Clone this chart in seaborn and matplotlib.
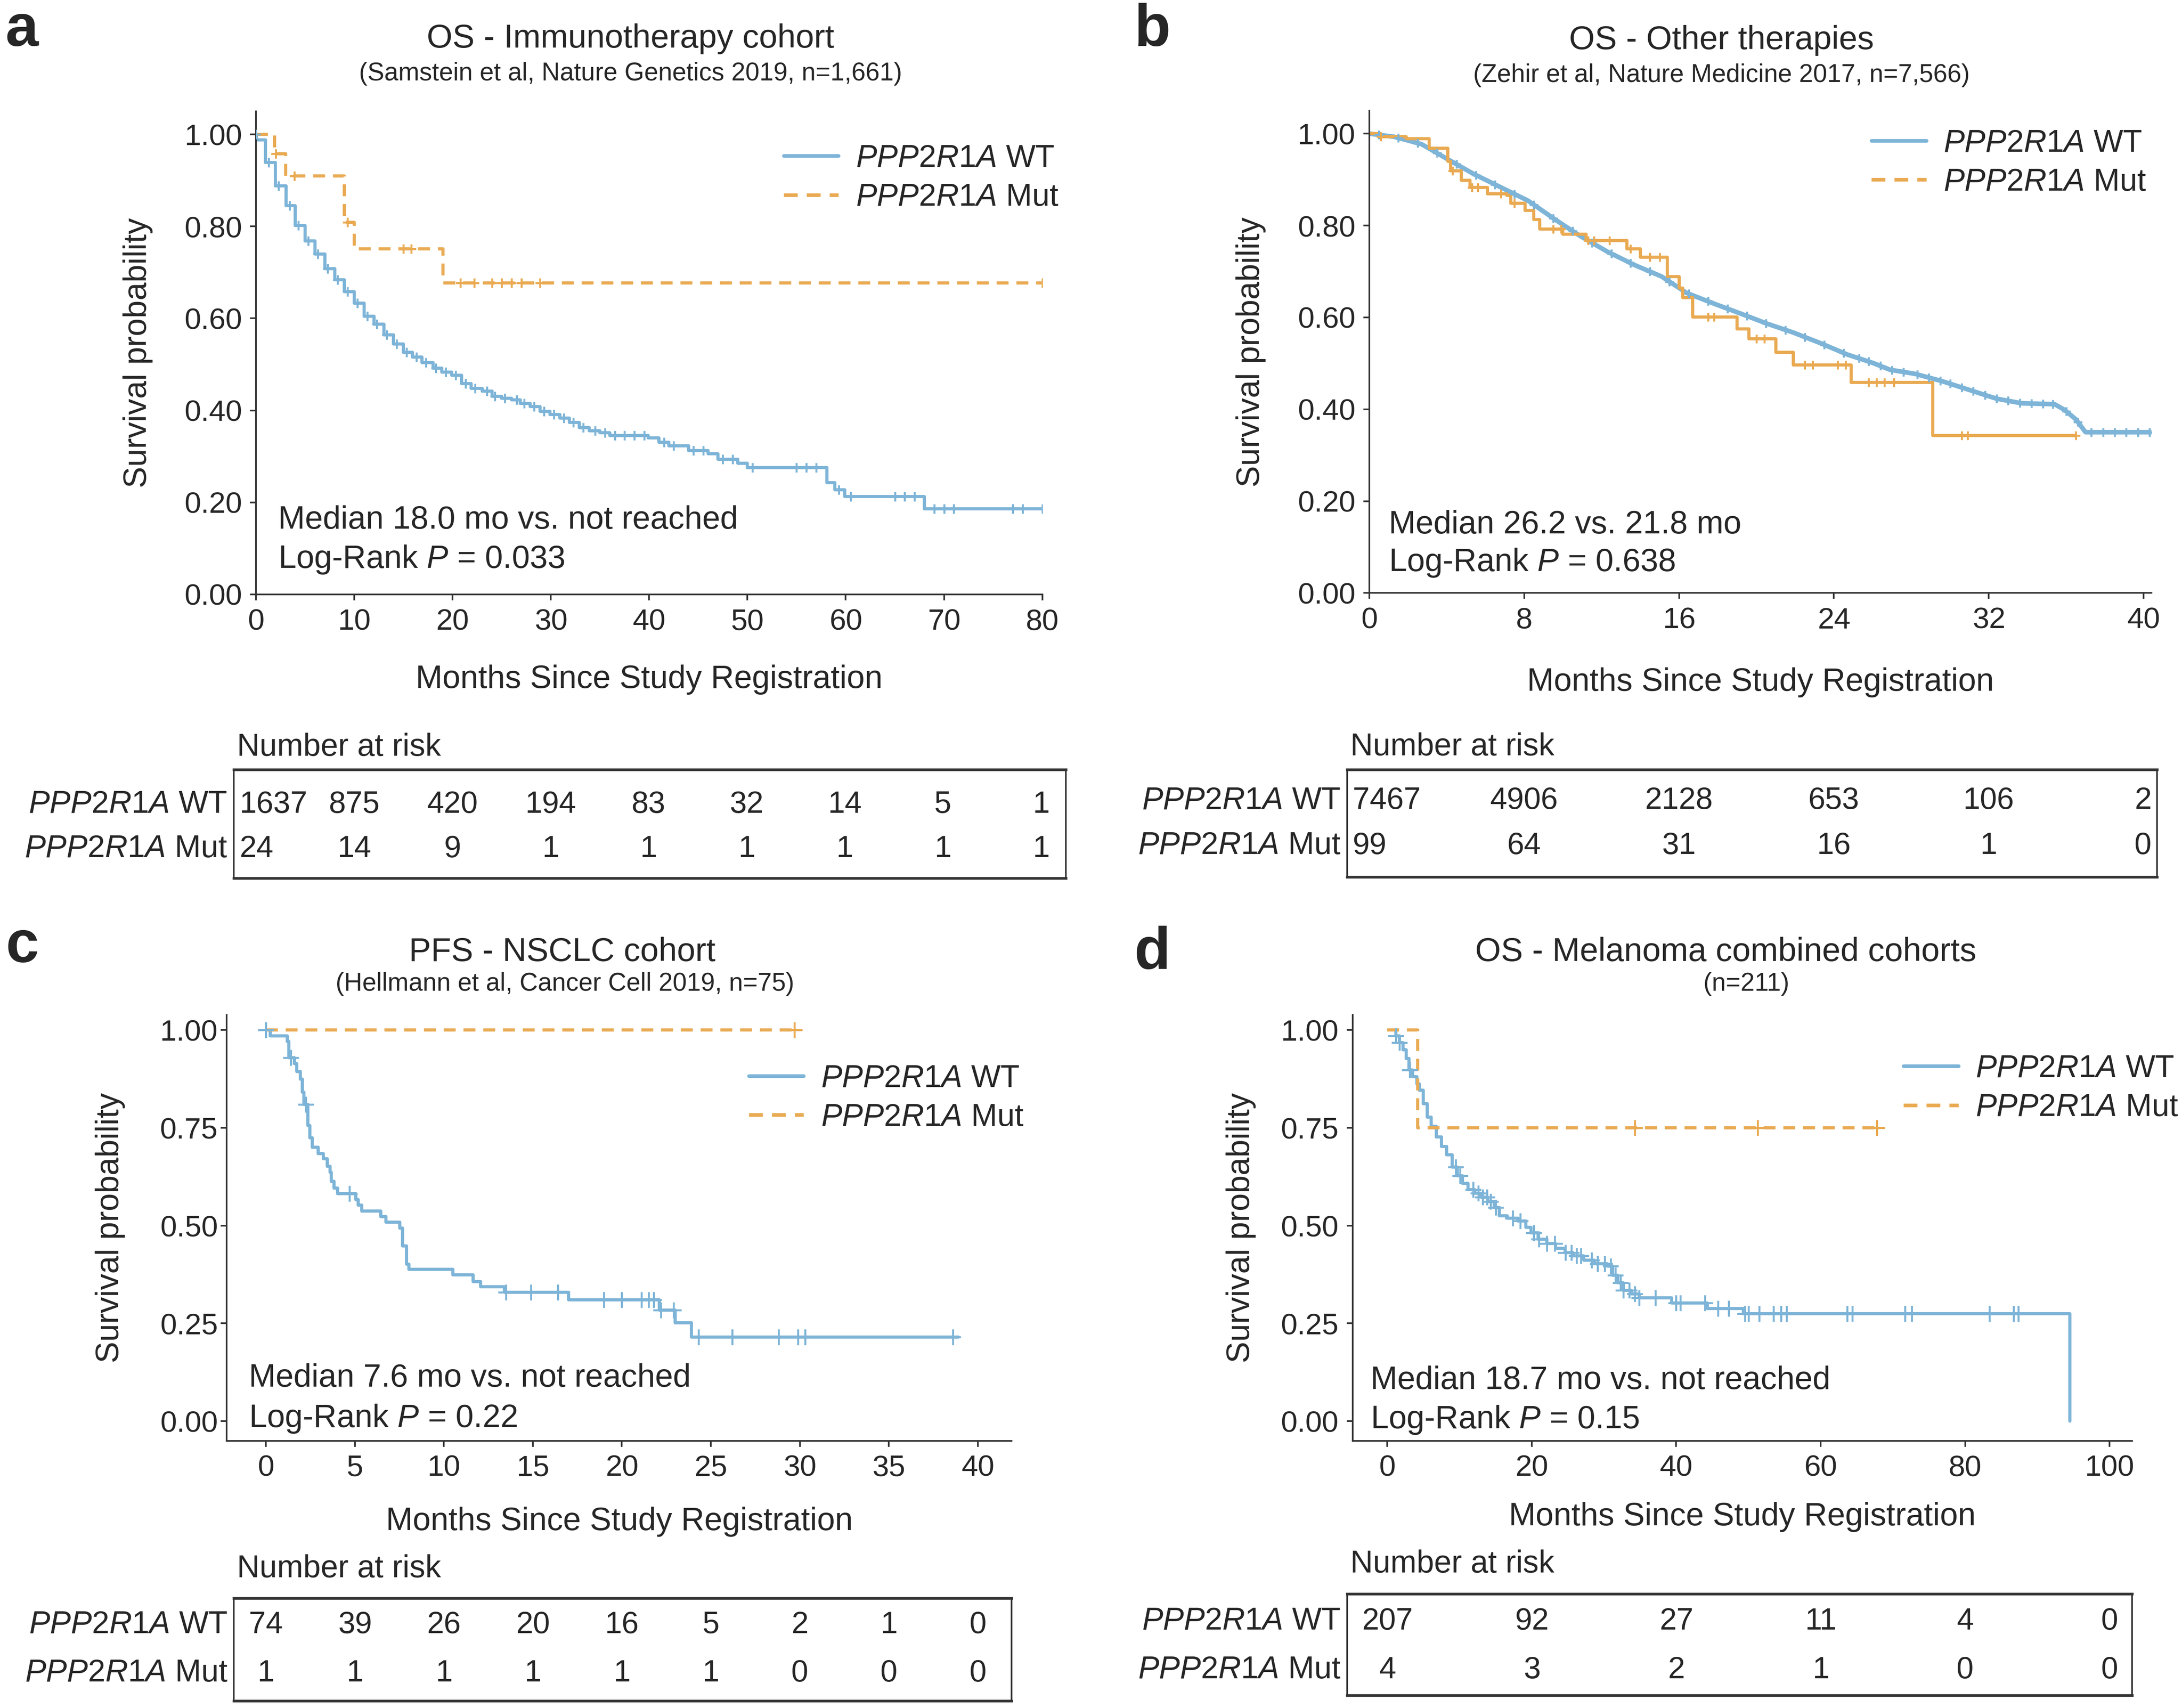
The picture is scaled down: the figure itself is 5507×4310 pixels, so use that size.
import numpy as np
import pandas as pd
import matplotlib
matplotlib.use('Agg')
import matplotlib.pyplot as plt
import seaborn as sns
from matplotlib.lines import Line2D

sns.set_theme(style='ticks')
plt.rcParams['font.family'] = ['Liberation Sans', 'DejaVu Sans']
plt.rcParams['mathtext.fontset'] = 'custom'
plt.rcParams['mathtext.rm'] = 'Liberation Sans'
plt.rcParams['mathtext.it'] = 'Liberation Sans:italic'

BLUE = '#7db4d7'
ORANGE = '#e9aa52'
DASH = (0, (3.8, 2.5))

# ---------- data ----------
# a: OS immunotherapy cohort
a_wt_t = [0, 0.05, 0.95, 1.95, 3.05, 4.0, 5.0, 6.0, 7.0, 8.0, 9.0, 10.0, 11.0, 12.0, 13.0, 14.0, 15.0,
          15.9, 16.9, 18.0, 18.9, 19.9, 20.9, 21.9, 23.0, 24.0, 25.0, 26.0, 26.9, 27.9, 28.9, 29.9,
          30.9, 31.9, 32.9, 33.9, 35.0, 36.0, 39.9, 41.0, 42.0, 44.0, 46.0, 47.0, 49.0, 50.0, 58.1,
          58.9, 59.9, 68.0, 80.0]
a_wt_s = [1.0, 0.988, 0.939, 0.888, 0.845, 0.802, 0.768, 0.740, 0.708, 0.684, 0.658, 0.633, 0.605,
          0.587, 0.564, 0.544, 0.526, 0.516, 0.504, 0.492, 0.483, 0.476, 0.458, 0.448, 0.442, 0.431,
          0.426, 0.423, 0.415, 0.408, 0.398, 0.391, 0.383, 0.374, 0.363, 0.356, 0.351, 0.345, 0.340,
          0.331, 0.323, 0.313, 0.306, 0.294, 0.285, 0.276, 0.243, 0.227, 0.213, 0.186, 0.186]
a_wt_cens = [0, 1.3, 2.3, 3.4, 4.3, 5.3, 6.3, 7.3, 8.3, 9.3, 10.3, 11.3, 12.3, 13.3, 14.3, 15.3, 16.3,
             17.3, 18.3, 19.3, 20.3, 21.3, 22.3, 23.5, 24.3, 25.3, 26.5, 27.3, 28.3, 29.3, 30.3, 31.3,
             32.3, 33.3, 34.5, 35.5, 36.5, 37.5, 38.5, 39.5, 41.5, 42.5, 44.5, 45.5, 47.5, 48.5, 50.5,
             55.0, 56.0, 57.0, 59.3, 60.5, 65.0, 66.0, 67.0, 69.0, 70.0, 71.0, 77.0, 78.0, 80.0]
a_mut_t = [0, 1.9, 3.0, 9.0, 10.0, 19.0, 80.0]
a_mut_s = [1.0, 0.958, 0.910, 0.809, 0.751, 0.677, 0.677]
a_mut_cens = [2.0, 3.9, 9.3, 15.0, 15.8, 20.8, 22.2, 24.0, 25.0, 26.0, 27.0, 28.9, 80.0]
a_risk_t = [0, 10, 20, 30, 40, 50, 60, 70, 80]
a_risk_wt = [1637, 875, 420, 194, 83, 32, 14, 5, 1]
a_risk_mut = [24, 14, 9, 1, 1, 1, 1, 1, 1]

# b: OS other therapies
b_wt_t = [0, 1.3, 2.7, 4.1, 5.4, 6.8, 8.2, 9.6, 10.9, 12.3, 13.7, 15.1, 16.4, 17.8, 19.2, 20.5,
          21.9, 23.3, 24.7, 26.0, 26.9, 28.2, 29.6, 31.0, 32.4, 33.7, 35.4, 35.9, 36.5, 37.0, 40.5]
b_wt_s = [1.0, 0.993, 0.977, 0.943, 0.912, 0.883, 0.854, 0.813, 0.777, 0.743, 0.714, 0.689, 0.653,
          0.630, 0.608, 0.587, 0.567, 0.544, 0.519, 0.501, 0.486, 0.477, 0.461, 0.442, 0.423, 0.413,
          0.411, 0.399, 0.378, 0.350, 0.350]
b_wt_cens = [0.5, 1.5, 2.5, 3.5, 4.5, 5.5, 6.5, 7.5, 8.5, 9.5, 10.5, 11.5, 12.5, 13.5, 14.5, 15.5,
             16.5, 17.5, 18.5, 19.5, 20.5, 21.5, 22.5, 23.5, 24.5, 25.3, 25.8, 26.4, 27.0, 27.6, 28.3,
             28.9, 29.5, 30.0, 30.6, 31.2, 31.8, 32.4, 33.0, 33.6, 34.2, 34.8, 35.3, 36.0, 36.6, 37.3,
             37.9, 38.5, 39.1, 39.7, 40.3]
b_mut_t = [0, 0.6, 1.9, 3.1, 4.05, 4.2, 4.75, 5.2, 6.1, 7.1, 7.3, 8.05, 8.5, 8.8, 10.0, 11.2, 13.3,
           14.0, 15.4, 16.0, 16.2, 16.7, 19.0, 19.6, 21.0, 21.9, 24.9, 29.1, 36.5]
b_mut_s = [1.0, 0.993, 0.989, 0.968, 0.940, 0.919, 0.898, 0.883, 0.869, 0.866, 0.848, 0.833, 0.813,
           0.792, 0.781, 0.767, 0.749, 0.731, 0.689, 0.664, 0.643, 0.601, 0.575, 0.553, 0.524, 0.496,
           0.458, 0.343, 0.343]
b_mut_cens = [0.6, 4.3, 5.3, 5.6, 6.8, 7.5, 9.5, 9.9, 11.3, 11.6, 12.4, 13.5, 14.5, 15.0, 17.5, 17.8,
              20.0, 20.4, 22.5, 22.9, 24.2, 24.6, 25.8, 26.2, 26.6, 27.1, 30.6, 30.9, 36.5]
b_risk_t = [0, 8, 16, 24, 32, 40]
b_risk_wt = [7467, 4906, 2128, 653, 106, 2]
b_risk_mut = [99, 64, 31, 16, 1, 0]

# c: PFS NSCLC cohort
c_wt_t = [0, 0.25, 1.2, 1.3, 1.6, 1.75, 1.95, 2.05, 2.15, 2.37, 2.48, 2.6, 2.95, 3.24, 3.45, 3.6,
          3.68, 3.83, 4.03, 5.05, 5.2, 5.4, 6.45, 6.74, 7.53, 7.68, 7.91, 8.03, 10.5, 11.65, 12.06,
          13.4, 17.0, 22.1, 23.0, 23.9, 38.9]
c_wt_s = [1.0, 0.985, 0.971, 0.929, 0.914, 0.894, 0.875, 0.841, 0.810, 0.756, 0.725, 0.700, 0.684,
          0.671, 0.652, 0.636, 0.613, 0.596, 0.582, 0.567, 0.552, 0.537, 0.523, 0.509, 0.494, 0.448,
          0.401, 0.388, 0.374, 0.357, 0.344, 0.330, 0.310, 0.284, 0.251, 0.215, 0.215]
c_wt_cens = [0, 1.4, 2.25, 4.7, 13.5, 14.9, 16.4, 19.0, 20.0, 21.1, 21.5, 21.8, 22.2, 22.9, 24.3,
             26.2, 28.8, 29.9, 30.3, 38.6]
c_mut_t = [0, 29.7]
c_mut_s = [1.0, 1.0]
c_mut_cens = [29.7]
c_risk_t = [0, 5, 10, 15, 20, 25, 30, 35, 40]
c_risk_wt = [74, 39, 26, 20, 16, 5, 2, 1, 0]
c_risk_mut = [1, 1, 1, 1, 1, 1, 0, 0, 0]

# d: OS melanoma combined cohorts
d_wt_t = [0.5, 1.17, 1.68, 2.19, 2.6, 3.0, 3.5, 4.1, 4.45, 4.96, 5.5, 6.05, 6.8, 7.5, 8.2, 8.97, 9.7,
          10.4, 11.2, 12.1, 13.0, 13.9, 14.8, 15.5, 16.6, 18.1, 19.2, 19.9, 20.9, 22.1, 23.3, 24.6,
          25.7, 27.2, 28.7, 30.5, 31.2, 31.9, 32.7, 33.8, 34.9, 39.4, 44.3, 49.3, 94.5]
d_wt_s = [1.0, 0.985, 0.968, 0.950, 0.927, 0.898, 0.881, 0.862, 0.846, 0.812, 0.777, 0.754, 0.727,
          0.702, 0.681, 0.650, 0.627, 0.608, 0.592, 0.583, 0.573, 0.562, 0.546, 0.525, 0.519, 0.512,
          0.496, 0.481, 0.465, 0.454, 0.442, 0.431, 0.423, 0.412, 0.402, 0.396, 0.373, 0.354, 0.335,
          0.325, 0.315, 0.302, 0.288, 0.275, 0.0]
d_wt_cens = [1.2, 1.7, 3.1, 9.5, 10.1, 11.9, 12.6, 13.2, 13.8, 14.3, 15.0, 17.4, 18.4, 20.3, 21.0,
             22.1, 23.2, 24.7, 25.5, 26.2, 26.8, 28.3, 29.1, 30.1, 30.9, 31.6, 32.3, 32.7, 33.5, 34.3,
             34.9, 37.1, 40.0, 40.6, 44.0, 45.8, 47.3, 49.5, 50.0, 51.5, 53.5, 54.5, 55.3, 63.7, 64.4,
             71.7, 72.6, 83.4, 86.7, 87.4]
d_mut_t = [0, 4.2, 67.8]
d_mut_s = [1.0, 0.75, 0.75]
d_mut_cens = [34.3, 51.3, 67.8]
d_risk_t = [0, 20, 40, 60, 80, 100]
d_risk_wt = [207, 92, 27, 11, 4, 0]
d_risk_mut = [4, 3, 2, 1, 0, 0]

WT_LAB = '$\\mathit{PPP2R1A}$ WT'
MUT_LAB = '$\\mathit{PPP2R1A}$ Mut'

# ---------- layout (reference pixels at 1568 x 1227) ----------
W, H = 1568.0, 1227.0


def rect(x0, y0, x1, y1):
    return [x0 / W, 1 - y1 / H, (x1 - x0) / W, (y1 - y0) / H]


def step_y(t, s, c):
    idx = np.searchsorted(t, c, side='right') - 1
    return np.array(s)[np.clip(idx, 0, len(s) - 1)]


fig = plt.figure(figsize=(5507 / 300, 4310 / 300), dpi=300)

panels = [
    dict(letter='a', lpos=(4, 22), title='OS - Immunotherapy cohort', tpos=(453, 28),
         sub='(Samstein et al, Nature Genetics 2019, n=1,661)', spos=(453, 53),
         rect=(184, 80, 749, 427), xlim=(0, 80), ylim=(0, 1.05), xticks=a_risk_t,
         yticks=[0, 0.2, 0.4, 0.6, 0.8, 1.0], data=(a_wt_t, a_wt_s, a_wt_cens, a_mut_t, a_mut_s, a_mut_cens),
         wt_steps=True, wt_lw=1.9, mut_ls=DASH, ms=35, leg=(0.671, 0.933), med='Median 18.0 mo vs. not reached',
         p='0.033', txt=(0.028, 0.153, 0.072), xpad=17.5, ylpad=19, ypad=5,
         trect=(168, 553, 766, 631), txlim=(-2.27, 82.55), rows=(0.68, 0.27), nar=1.205,
         risk=(a_risk_t, a_risk_wt, a_risk_mut)),
    dict(letter='b', lpos=(815, 22), title='OS - Other therapies', tpos=(1237, 29),
         sub='(Zehir et al, Nature Medicine 2017, n=7,566)', spos=(1237, 54),
         rect=(984, 79.5, 1546, 426), xlim=(0, 40.4), ylim=(0, 1.05), xticks=b_risk_t,
         yticks=[0, 0.2, 0.4, 0.6, 0.8, 1.0], data=(b_wt_t, b_wt_s, b_wt_cens, b_mut_t, b_mut_s, b_mut_cens),
         wt_steps=False, wt_lw=2.8, mut_ls='-', ms=30, leg=(0.642, 0.963), med='Median 26.2 vs. 21.8 mo',
         p='0.638', txt=(0.025, 0.141, 0.063), xpad=20, ylpad=19, ypad=5,
         trect=(968, 553, 1550, 630), txlim=(-1.15, 40.72), rows=(0.71, 0.29), nar=1.21,
         risk=(b_risk_t, b_risk_wt, b_risk_mut)),
    dict(letter='c', lpos=(4, 680), title='PFS - NSCLC cohort', tpos=(404, 684),
         sub='(Hellmann et al, Cancer Cell 2019, n=75)', spos=(406, 707),
         rect=(163, 729, 727, 1035), xlim=(-2.19, 41.9), ylim=(-0.05, 1.039), xticks=c_risk_t,
         yticks=[0, 0.25, 0.5, 0.75, 1.0], data=(c_wt_t, c_wt_s, c_wt_cens, c_mut_t, c_mut_s, c_mut_cens),
         wt_steps=True, wt_lw=1.9, mut_ls=DASH, ms=90, leg=(0.665, 0.885), med='Median 7.6 mo vs. not reached',
         p='0.22', txt=(0.028, 0.147, 0.052), xpad=15, ylpad=21, ypad=2,
         trect=(168, 1148, 727, 1222), txlim=(-1.8, 41.9), rows=(0.74, 0.27), nar=1.28,
         risk=(c_risk_t, c_risk_wt, c_risk_mut)),
    dict(letter='d', lpos=(815, 685), title='OS - Melanoma combined cohorts', tpos=(1240, 684),
         sub='(n=211)', spos=(1255, 707),
         rect=(972, 729, 1532, 1035), xlim=(-4.8, 103.1), ylim=(-0.05, 1.039), xticks=d_risk_t,
         yticks=[0, 0.25, 0.5, 0.75, 1.0], data=(d_wt_t, d_wt_s, d_wt_cens, d_mut_t, d_mut_s, d_mut_cens),
         wt_steps=True, wt_lw=1.9, mut_ls=DASH, ms=90, leg=(0.707, 0.908), med='Median 18.7 mo vs. not reached',
         p='0.15', txt=(0.023, 0.141, 0.049), xpad=12, ylpad=15, ypad=5,
         trect=(968, 1145, 1532, 1218), txlim=(-5.6, 103.1), rows=(0.73, 0.25), nar=1.29,
         risk=(d_risk_t, d_risk_wt, d_risk_mut)),
]

first_col = []  # first column of each risk table, nudged inside the box later

for pn in panels:
    wt_t, wt_s, wt_c, mut_t, mut_s, mut_c = pn['data']
    ax = fig.add_axes(rect(*pn['rect']))

    # curves
    if pn['wt_steps']:
        sns.lineplot(x=wt_t, y=wt_s, drawstyle='steps-post', estimator=None, sort=False,
                     color=BLUE, linewidth=pn['wt_lw'], ax=ax, legend=False)
        wt_cy = step_y(wt_t, wt_s, wt_c)
    else:
        sns.lineplot(x=wt_t, y=wt_s, estimator=None, sort=False,
                     color=BLUE, linewidth=pn['wt_lw'], ax=ax, legend=False)
        wt_cy = np.interp(wt_c, wt_t, wt_s)
    sns.lineplot(x=mut_t, y=mut_s, drawstyle='steps-post', estimator=None, sort=False,
                 color=ORANGE, linewidth=1.9, linestyle=pn['mut_ls'], ax=ax, legend=False)
    mut_cy = step_y(mut_t, mut_s, mut_c)

    # censor marks
    sns.scatterplot(x=wt_c, y=wt_cy, marker='+', s=pn['ms'], color=BLUE, linewidth=1.2,
                    ax=ax, legend=False, zorder=3)
    sns.scatterplot(x=mut_c, y=mut_cy, marker='+', s=pn['ms'], color=ORANGE, linewidth=1.2,
                    ax=ax, legend=False, zorder=3)

    ax.set_xlim(*pn['xlim'])
    ax.set_ylim(*pn['ylim'])
    ax.set_xticks(pn['xticks'])
    ax.set_yticks(pn['yticks'])
    ax.set_yticklabels(['%.2f' % v for v in pn['yticks']])
    ax.tick_params(axis='x', labelsize=18, length=3.5, width=1, pad=5, color='#333333')
    ax.tick_params(axis='y', labelsize=18, length=3.5, width=1, pad=pn['ypad'], color='#333333')
    sns.despine(ax=ax)
    for sp in ['left', 'bottom']:
        ax.spines[sp].set_color('#333333')
        ax.spines[sp].set_linewidth(1.0)
    ax.set_xlabel('Months Since Study Registration', fontsize=19.5, labelpad=pn['xpad'])
    ax.set_ylabel('Survival probability', fontsize=19.5, labelpad=pn['ylpad'])

    handles = [Line2D([], [], color=BLUE, lw=2.2, label=WT_LAB),
               Line2D([], [], color=ORANGE, lw=2.2, ls=DASH, label=MUT_LAB)]
    ax.legend(handles=handles, loc='upper left', bbox_to_anchor=pn['leg'], frameon=False,
              fontsize=19, handlelength=1.75, handletextpad=0.55, labelspacing=0.3,
              borderpad=0, borderaxespad=0)

    tx, ty1, ty2 = pn['txt']
    ax.text(tx, ty1, pn['med'], transform=ax.transAxes, fontsize=19.5, va='center')
    ax.text(tx, ty2, 'Log-Rank $\\mathit{P}$ = ' + pn['p'], transform=ax.transAxes,
            fontsize=19.5, va='center')

    # titles and panel letter
    fig.text(pn['tpos'][0] / W, 1 - pn['tpos'][1] / H, pn['title'], ha='center', va='center', fontsize=20)
    fig.text(pn['spos'][0] / W, 1 - pn['spos'][1] / H, pn['sub'], ha='center', va='center', fontsize=15.3)
    fig.text(pn['lpos'][0] / W, 1 - pn['lpos'][1] / H, pn['letter'], ha='left', va='center',
             fontsize=36, fontweight='bold')

    # number at risk table
    tax = fig.add_axes(rect(*pn['trect']))
    tax.set_xlim(*pn['txlim'])
    tax.set_ylim(0, 1)
    tax.set_xticks([])
    tax.set_yticks([])
    for sp in tax.spines.values():
        sp.set_color('#333333')
        sp.set_linewidth(1.0)
    tax.spines['top'].set_linewidth(1.6)
    tax.spines['bottom'].set_linewidth(1.6)
    rt, rwt, rmut = pn['risk']
    ywt, ymut = pn['rows']
    for i, (t, n1, n2) in enumerate(zip(rt, rwt, rmut)):
        t1 = tax.text(t, ywt, str(n1), ha='center', va='center', fontsize=18.5)
        t2 = tax.text(t, ymut, str(n2), ha='center', va='center', fontsize=18.5)
        if i == 0:
            first_col.append((tax, t1))
            first_col.append((tax, t2))
    tax.text(-0.008, ywt, WT_LAB, transform=tax.transAxes, ha='right', va='center', fontsize=19)
    tax.text(-0.008, ymut, MUT_LAB, transform=tax.transAxes, ha='right', va='center', fontsize=19)
    tax.text(0.004, pn['nar'], 'Number at risk', transform=tax.transAxes, ha='left', va='center',
             fontsize=19)

# keep wide first-column counts inside the table box
fig.canvas.draw()
renderer = fig.canvas.get_renderer()
for tax, txt in first_col:
    bb = txt.get_window_extent(renderer)
    ab = tax.get_window_extent(renderer)
    margin = 14
    if bb.x0 < ab.x0 + margin:
        x0, x1 = tax.get_xlim()
        dx = (ab.x0 + margin - bb.x0) / ab.width * (x1 - x0)
        txt.set_x(txt.get_position()[0] + dx)

fig.savefig('out.png', dpi=300, facecolor='white')
